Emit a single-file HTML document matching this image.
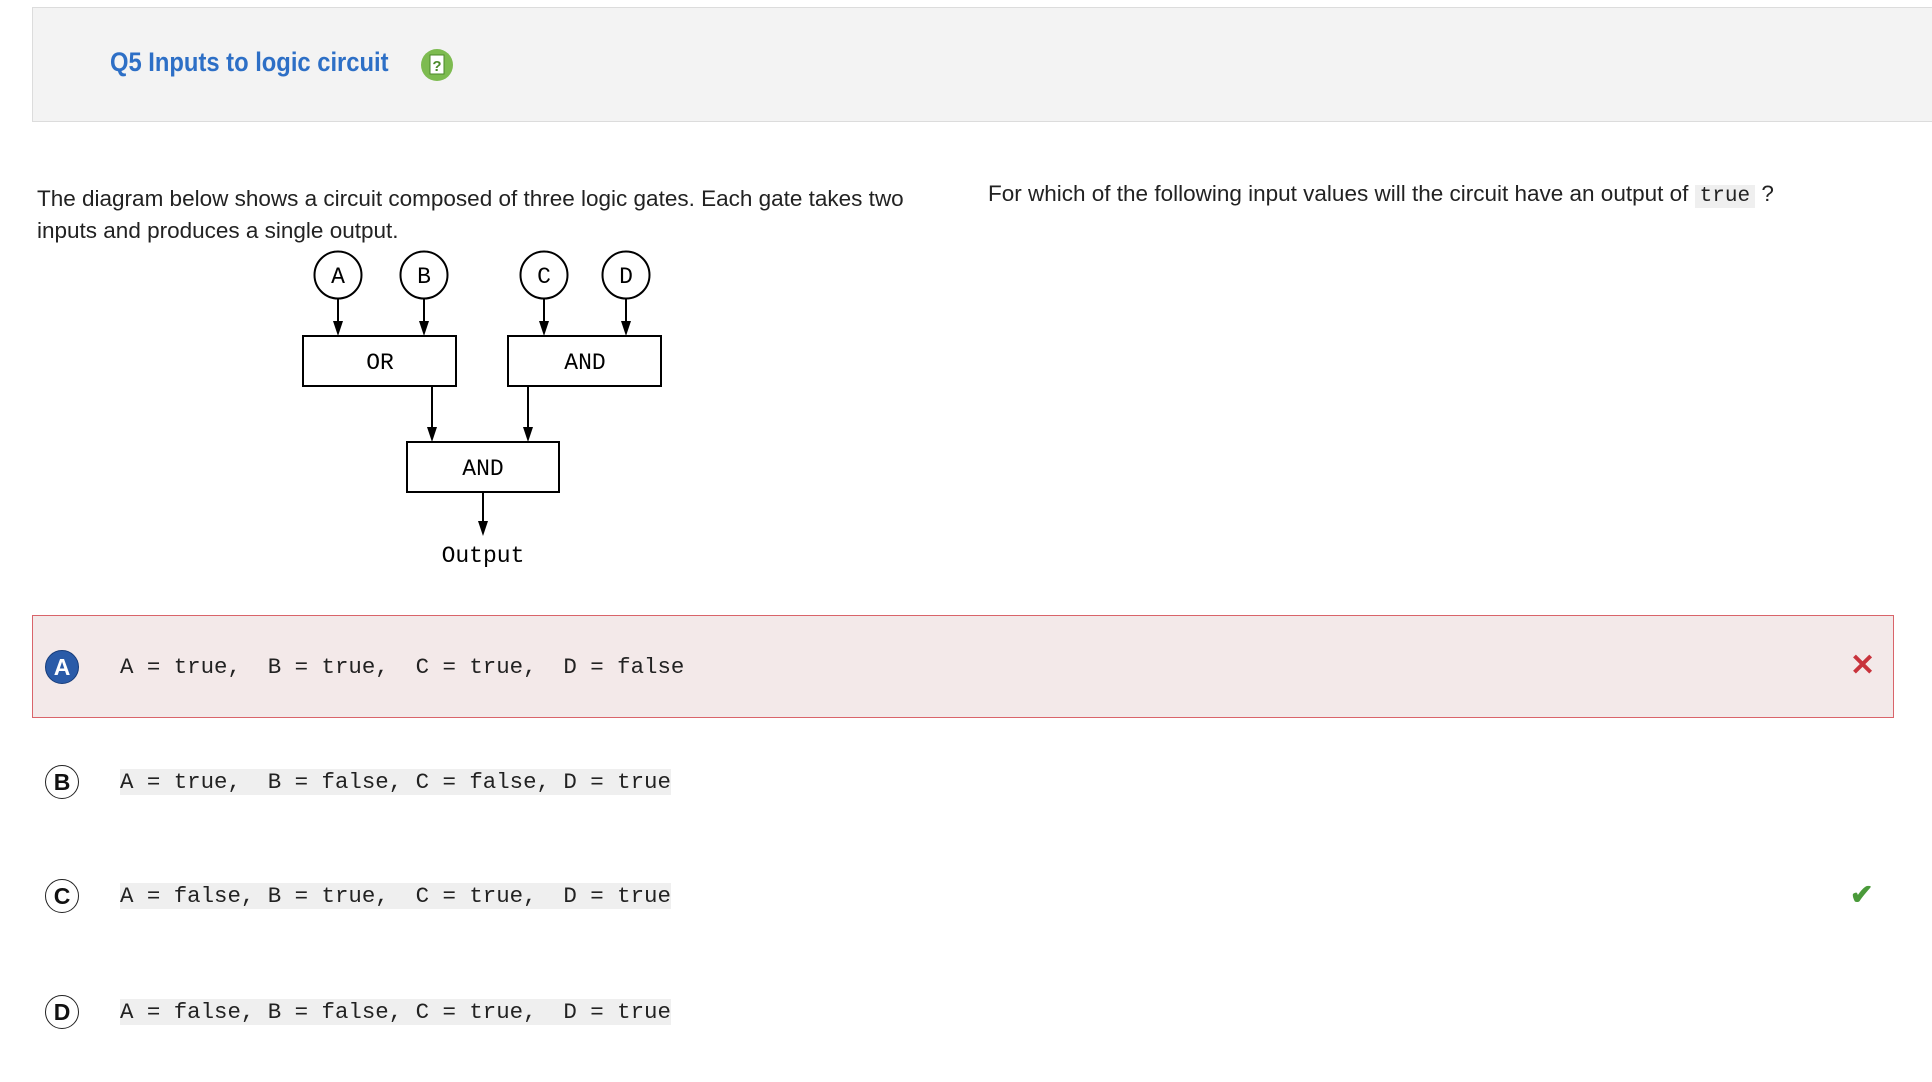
<!DOCTYPE html>
<html><head><meta charset="utf-8"><style>
body{margin:0;width:1932px;height:1082px;background:#fff;position:relative;overflow:hidden;font-family:"Liberation Sans",sans-serif;color:#222}
.abs{position:absolute}
.hdr{left:32px;top:7px;width:1920px;height:113px;background:#f3f3f3;border:1px solid #dcdcdc}
.title{left:110px;top:47px;font-size:27px;font-weight:bold;color:#2d6fc6;white-space:nowrap;transform:scaleX(0.88);transform-origin:left}
.txt{font-size:22.5px;white-space:nowrap;color:#222}
.mono{font-family:"Liberation Mono",monospace}
.code{font-family:"Liberation Mono",monospace;font-size:22.4px;background:#efefef;height:26px;line-height:26px;white-space:pre}
.opt{width:34px;height:34px;border:1.5px solid #222;border-radius:50%;font-weight:bold;font-size:23px;text-align:center;line-height:32px;color:#111;box-sizing:border-box}
</style></head><body>
<div class="abs hdr"></div>
<div class="abs title">Q5 Inputs to logic circuit</div>
<svg class="abs" style="left:420px;top:48px" width="34" height="34"><circle cx="17" cy="17" r="16" fill="#7dbb50"/><rect x="10" y="7" width="14" height="19" fill="#fff" stroke="#4b8a2a" stroke-width="1"/><text x="17" y="23" font-family="Liberation Sans" font-size="15" font-weight="bold" fill="#4b8a2a" text-anchor="middle">?</text></svg>

<div class="abs txt" style="left:37px;top:183px;line-height:32px">The diagram below shows a circuit composed of three logic gates. Each gate takes two<br>inputs and produces a single output.</div>
<div class="abs txt" style="left:988px;top:180px;line-height:28px">For which of the following input values will the circuit have an output of <span class="mono" style="background:#efefef;padding:0 5px;font-size:21px">true</span> ?</div>

<svg class="abs" style="left:0;top:0" width="1932" height="620">
<g fill="none" stroke="#000" stroke-width="2">
<circle cx="338" cy="275" r="23.5"/><circle cx="424" cy="275" r="23.5"/><circle cx="544" cy="275" r="23.5"/><circle cx="626" cy="275" r="23.5"/>
<rect x="303" y="336" width="153" height="50"/><rect x="508" y="336" width="153" height="50"/><rect x="407" y="442" width="152" height="50"/>
<line x1="338" y1="299" x2="338" y2="322"/><line x1="424" y1="299" x2="424" y2="322"/><line x1="544" y1="299" x2="544" y2="322"/><line x1="626" y1="299" x2="626" y2="322"/>
<line x1="432" y1="386" x2="432" y2="428"/><line x1="528" y1="386" x2="528" y2="428"/><line x1="483" y1="492" x2="483" y2="522"/>
</g>
<g fill="#000">
<path d="M333,321 L343,321 L338,336Z"/><path d="M419,321 L429,321 L424,336Z"/><path d="M539,321 L549,321 L544,336Z"/><path d="M621,321 L631,321 L626,336Z"/>
<path d="M427,427 L437,427 L432,442Z"/><path d="M523,427 L533,427 L528,442Z"/><path d="M478,521 L488,521 L483,536Z"/>
</g>
<g font-family="Liberation Mono,monospace" font-size="23" text-anchor="middle" fill="#000">
<text x="338" y="283">A</text><text x="424" y="283">B</text><text x="544" y="283">C</text><text x="626" y="283">D</text>
<text x="380" y="369">OR</text><text x="585" y="369">AND</text><text x="483" y="475">AND</text><text x="483" y="562">Output</text>
</g>
</svg>

<div class="abs" style="left:32px;top:615px;width:1862px;height:103px;background:#f3e9e9;border:1.5px solid #d9646a;box-sizing:border-box"></div>
<div class="abs opt" style="left:45px;top:650px;background:#2a5ba8;color:#fff;border-color:#163c7a">A</div>
<div class="abs code" style="left:120px;top:654px;background:transparent">A = true,  B = true,  C = true,  D = false</div>
<div class="abs" style="left:1850px;top:648px;color:#c8333c;font-size:30px;font-weight:bold">✕</div>

<div class="abs opt" style="left:45px;top:765px">B</div>
<div class="abs code" style="left:120px;top:769px">A = true,  B = false, C = false, D = true</div>

<div class="abs opt" style="left:45px;top:879px">C</div>
<div class="abs code" style="left:120px;top:883px">A = false, B = true,  C = true,  D = true</div>
<div class="abs" style="left:1850px;top:878px;color:#4a9a3a;font-size:28px;font-weight:bold">✔</div>

<div class="abs opt" style="left:45px;top:995px">D</div>
<div class="abs code" style="left:120px;top:999px">A = false, B = false, C = true,  D = true</div>
</body></html>
